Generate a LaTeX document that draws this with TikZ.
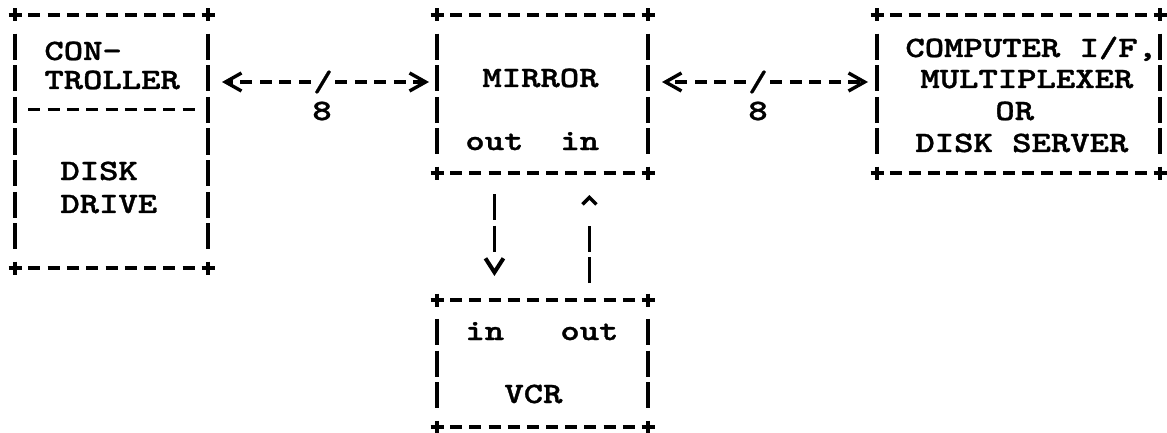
\documentclass[tikz,border=0pt]{standalone}
\usepackage{fontspec}
\usetikzlibrary{calc,arrows.meta}
\newfontfamily\twf{lmmonolt10-bold.otf}[FakeStretch=1.25, FakeBold=1.2]
\newcommand\tw[1]{{\twf\fontsize{14.75pt}{16pt}\selectfont #1}}
\newcommand\asciibox[3]{%
  \pgfmathtruncatemacro\ncm{#2-1}%
  \pgfmathtruncatemacro\nrm{#3-1}%
  \foreach \c in {north west,north east,south west,south east}
    \draw[boxline] (#1.\c) +(-6.5,0) -- +(6.5,0) +(0,-6.5) -- +(0,6.5);
  \foreach \k in {1,...,\ncm}{
    \draw[boxline] ($(#1.north west)!\k/#2!(#1.north east)$) +(-6,0) -- +(6,0);
    \draw[boxline] ($(#1.south west)!\k/#2!(#1.south east)$) +(-6,0) -- +(6,0);
  }
  \foreach \k in {1,...,\nrm}{
    \draw[boxline] ($(#1.north west)!\k/#3!(#1.south west)$) +(0,-13) -- +(0,13);
    \draw[boxline] ($(#1.north east)!\k/#3!(#1.south east)$) +(0,-13) -- +(0,13);
  }
}
\begin{document}
\begin{tikzpicture}[x=0.5pt,y=-0.5pt,
  boxline/.style={line width=1.6pt},
  box/.style={rectangle, inner sep=0pt, outer sep=0pt, draw=none},
  txt/.style={inner sep=0pt, anchor=base west},
  slash/.style={inner sep=0pt, minimum width=12pt, minimum height=10pt},
  hconn/.style={line width=1.6pt, dash pattern=on 6pt off 3.75pt,
    -{Straight Barb[length=8pt,width=9pt,line width=1.7pt]}},
  vconn/.style={line width=1.6pt, dash pattern=on 13pt off 2.75pt on 13pt off 40pt}]
\useasboundingbox (0,0) rectangle (1167,433);
\fill[white] (0,0) rectangle (1167,433);
% boxes
\node[box, minimum width=96.5pt, minimum height=126.5pt] (L) at (111.5,141.5) {};
\node[box, minimum width=105.5pt, minimum height=79pt] (M) at (542.5,94) {};
\node[box, minimum width=141.5pt, minimum height=79pt] (R) at (1018.5,94) {};
\node[box, minimum width=105.5pt, minimum height=63.5pt] (V) at (542.5,363.5) {};
\asciibox{L}{10}{8}
\asciibox{M}{11}{5}
\asciibox{R}{15}{5}
\asciibox{V}{11}{4}
% divider in left box
\coordinate (Ldl) at ($(L.north west)!3/8!(L.south west)$);
\coordinate (Ldr) at ($(L.north east)!3/8!(L.south east)$);
\foreach \k in {1,...,9}
  \draw[boxline] ($(Ldl)!\k/10!(Ldr)$) +(-6,0) -- +(6,0);
% texts
\node[txt] (tCON) at (44,60) {\tw{CON-}};
\node[txt] (tTROL) at (44,89) {\tw{TROLLER}};
\node[txt] (tDISK) at (60,180) {\tw{DISK}};
\node[txt] (tDRIVE) at (60,213) {\tw{DRIVE}};
\node[txt] (tMIR) at (482,87) {\tw{MIRROR}};
\node[txt] (mout) at (465,150) {\tw{out}};
\node[txt] (min) at (560,150) {\tw{in}};
\node[txt] (tCOMP) at (905,57) {\tw{COMPUTER I/F,}};
\node[txt] (tMUX) at (920,88) {\tw{MULTIPLEXER}};
\node[txt] (tOR) at (995,120) {\tw{OR}};
\node[txt] (tDS) at (915,152) {\tw{DISK SERVER}};
\node[txt] (vin) at (465,340) {\tw{in}};
\node[txt] (vout) at (560,340) {\tw{out}};
\node[txt] (tVCR) at (504,403) {\tw{VCR}};
% bus connectors
\node[slash] (s1) at (323,82) {\tw{/}};
\node[slash] (s2) at (758,82) {\tw{/}};
\node[inner sep=0pt, anchor=base] (n8a) at (322,120) {\tw{8}};
\node[inner sep=0pt, anchor=base] (n8b) at (758,120) {\tw{8}};
\draw[hconn, shorten >=7pt] (s1) -- (s1 -| L.east);
\draw[hconn, shorten >=4pt] (s1) -- (s1 -| M.west);
\draw[hconn, shorten >=7pt] (s2) -- (s2 -| M.east);
\draw[hconn, shorten >=4.5pt] (s2) -- (s2 -| R.west);
% mirror <-> VCR
\draw[vconn, -{Straight Barb[length=7pt,width=9pt,line width=2pt]}, shorten <=10.5pt, shorten >=12pt]
  (mout |- M.south) -- (mout |- V.north);
\draw[vconn, -{Straight Barb[length=3.5pt,width=7pt,line width=1.7pt]}, shorten <=8.5pt, shorten >=11pt]
  (vout |- V.north) -- (vout |- M.south);
\end{tikzpicture}
\end{document}
